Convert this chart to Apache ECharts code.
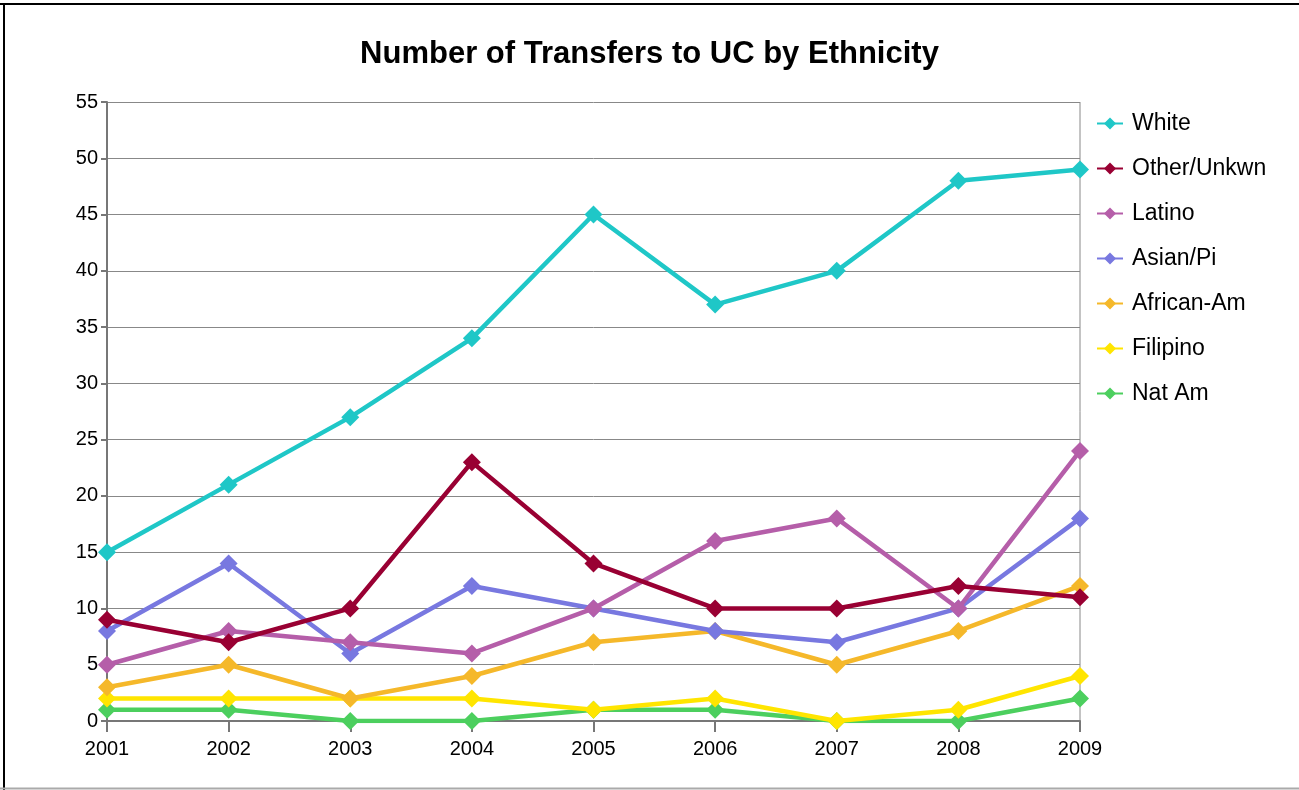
<!DOCTYPE html>
<html>
<head>
<meta charset="utf-8">
<script src="https://cdn.jsdelivr.net/npm/echarts@6/dist/echarts.min.js"></script>
<style>
html, body { margin: 0; padding: 0; background: #fff; }
#chart { width: 1299px; height: 790px; }
</style>
</head>
<body>
<div id="chart"></div>
<script>
var years = ['2001', '2002', '2003', '2004', '2005', '2006', '2007', '2008', '2009'];
var white = [15, 21, 27, 34, 45, 37, 40, 48, 49];
var otherUnkwn = [9, 7, 10, 23, 14, 10, 10, 12, 11];
var latino = [5, 8, 7, 6, 10, 16, 18, 10, 24];
var asianPi = [8, 14, 6, 12, 10, 8, 7, 10, 18];
var africanAm = [3, 5, 2, 4, 7, 8, 5, 8, 12];
var filipino = [2, 2, 2, 2, 1, 2, 0, 1, 4];
var natAm = [1, 1, 0, 0, 1, 1, 0, 0, 2];

var names = ['White', 'Other/Unkwn', 'Latino', 'Asian/Pi', 'African-Am', 'Filipino', 'Nat Am'];
var colors = ['#1fc7c7', '#990033', '#b55ea9', '#7878e0', '#f5b82a', '#ffe500', '#4ccf5e'];
var values = [white, otherUnkwn, latino, asianPi, africanAm, filipino, natAm];

var chart = echarts.init(document.getElementById('chart'));

// 系列按图例顺序生成，后画的在上面
var series = names.map(function (n, i) {
  return {
    name: n,
    type: 'line',
    data: values[i],
    color: colors[i],
    symbol: 'diamond',
    symbolSize: 18,
    lineStyle: { width: 4.5 },
    z: 10 - i,
    animation: false
  };
});

chart.setOption({
  backgroundColor: '#fff',
  textStyle: { fontFamily: 'Liberation Sans, Arial, sans-serif' },
  title: {
    text: 'Number of Transfers to UC by Ethnicity',
    left: 'center',
    top: 34,
    textStyle: { fontSize: 31, fontWeight: 'bold', color: '#000' }
  },
  legend: {
    orient: 'vertical',
    left: 1091,
    top: 107,
    itemGap: 22,
    itemWidth: 26,
    itemHeight: 15,
    textStyle: { fontSize: 23, color: '#000', padding: [0, 0, 0, 4] },
    data: names
  },
  grid: { left: 107, right: 219, top: 102, bottom: 69 },
  xAxis: {
    type: 'category',
    boundaryGap: false,
    data: years,
    axisLine: { lineStyle: { color: '#777', width: 2 } },
    axisTick: { show: true, length: 11, lineStyle: { color: '#777', width: 2 } },
    axisLabel: { fontSize: 20, color: '#000', margin: 18 },
    splitLine: { show: false }
  },
  yAxis: {
    type: 'value',
    min: 0,
    max: 55,
    interval: 5,
    axisLine: { show: true, lineStyle: { color: '#777', width: 2 } },
    axisTick: { show: true, length: 6, lineStyle: { color: '#777', width: 2 } },
    axisLabel: { fontSize: 20, color: '#000', margin: 9 },
    splitLine: { show: true, lineStyle: { color: '#888', width: 1 } }
  },
  graphic: [
    {
      type: 'line',
      shape: { x1: 0, y1: 4, x2: 1299, y2: 4 },
      style: { stroke: '#000', lineWidth: 2 },
      silent: true
    },
    {
      type: 'line',
      shape: { x1: 4, y1: 4, x2: 4, y2: 790 },
      style: { stroke: '#000', lineWidth: 2 },
      silent: true
    },
    {
      type: 'line',
      shape: { x1: 0, y1: 788.5, x2: 1299, y2: 788.5 },
      style: { stroke: '#aaa', lineWidth: 2 },
      silent: true
    },
    {
      type: 'line',
      shape: { x1: 1080, y1: 102, x2: 1080, y2: 721 },
      style: { stroke: '#888', lineWidth: 1 },
      silent: true
    }
  ],
  series: series
});
</script>
</body>
</html>
